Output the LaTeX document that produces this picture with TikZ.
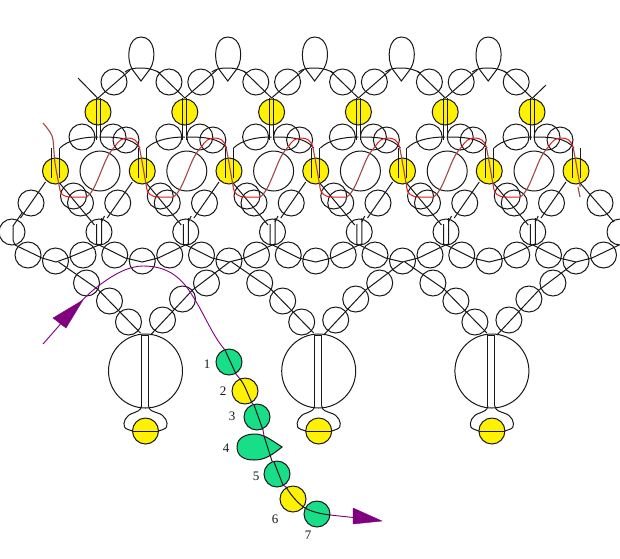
\documentclass[tikz,border=0pt]{standalone}
\usepackage{fontspec}
\setmainfont{Liberation Serif}
\definecolor{beadgreen}{HTML}{18DE88}
\definecolor{beadyellow}{HTML}{FFF200}
\definecolor{threadred}{HTML}{E81818}
\definecolor{threadbrown}{HTML}{A04848}
\definecolor{threadpurple}{HTML}{800080}
\definecolor{ink}{HTML}{181818}
\tikzset{
  bead/.style={circle,draw=ink,line width=1pt,inner sep=0pt,minimum size=26pt},
  big/.style={bead,minimum size=40pt},
  huge/.style={bead,minimum size=74pt},
  yel/.style={bead,fill=beadyellow},
  grn/.style={bead,fill=beadgreen},
  ln/.style={draw=ink,line width=1pt},
  redth/.style={draw=threadred,line width=1pt},
  brownth/.style={draw=threadbrown,line width=1.1pt},
  purp/.style={draw=threadpurple,line width=.9pt},
  tip/.style={fill=threadpurple,draw=threadpurple,line width=.4pt},
  num/.style={font=\fontsize{13}{13}\selectfont,text=ink,inner sep=0pt}
}
\begin{document}
\begin{tikzpicture}[x=1pt,y=-1pt]
\useasboundingbox (0,0) rectangle (620,558);
\clip (0,0) rectangle (620,558);
\fill[white] (0,0) rectangle (620,558);
% upper yellow row
\foreach \i [evaluate=\i as \x using 98+86.8*\i] in {0,...,5}{
  \node[yel] (ty\i) at (\x,112) {};
  \draw[ln] (\x-2,98) -- (\x-2,140) (\x+2,98) -- (\x+2,140);
  \node[bead] (sa\i) at (\x-16,137) {};
  \node[bead] (sb\i) at (\x+15,137) {};
  \node[bead] (sc\i) at (\x+28,140) {};
  \node[big] (bc\i) at (\x+2,171) {};
  \draw[ln] (\x-38,148) .. controls (\x-30,140) and (\x-15,137) .. (\x,137);
  \draw[ln] (\x+2,137) .. controls (\x+20,137) and (\x+34,138) .. (\x+42,148);
}
% top row circles and teardrops
\foreach \i [evaluate=\i as \x using 98+86.8*\i] in {0,...,4}{
  \node[bead] (tr\i) at (\x+16,82) {};
  \node[bead] (tl\i) at (\x+71,82) {};
  \draw[ln] (\x,98) -- (\x+32,70);
  \draw[ln] (\x+86.8,98) -- (\x+59,71);
  \draw[ln] (\x+27,72) .. controls (\x+31,69) and (\x+35,68) .. (\x+43,68) .. controls (\x+51,68) and (\x+57,70) .. (\x+62,73);
  \draw[ln] (\x+34,69) .. controls (\x+28,58) and (\x+30,37) .. (\x+43,37) .. controls (\x+57,37) and (\x+59,58) .. (\x+52,69) -- (\x+43,81) -- cycle;
}
\coordinate (tailL) at (78,78);
\coordinate (tailR) at (546,85);
\draw[ln] (ty0.north) -- (tailL);
\draw[ln] (ty5.north) -- (tailR);
% lower yellow row
\foreach \i [evaluate=\i as \x using 55.5+86.75*\i] in {0,...,6}{
  \node[yel] (my\i) at (\x,171) {};
  \draw[ln] (\x-4,148) -- (\x-4,178) (\x+4,148) -- (\x+4,178);
  \draw[ln] (\x-10,182) -- (\x-35,218);
  \node[bead] (la\i) at (\x-24.5,203) {};
}
\foreach \i [evaluate=\i as \x using 55.5+86.75*\i] in {0,...,5}{
  \node[bead] (lb\i) at (\x+18,196) {};
  \node[bead] (lc\i) at (\x+25,203) {};
  \draw[ln] (\x+4,183) -- (\x+39,225);
  \node[bead] (ru\i) at (\x+43.5,232) {};
  \draw[ln] (\x+41,224) -- (\x+41,244) -- (\x+43,245);
  \draw[ln] (\x+46,218) -- (\x+46,244) -- (\x+43,245);
  \draw[ln] (\x+49,216) -- (\x+46,222);
}
\node[bead] (rl0) at (12,232) {};
\node[bead] (rl1) at (620,232) {};
\node[bead] (la7) at (600,203) {};
\draw[ln] (580,183) -- (614,222);
\draw[ln] (22,213) -- (13,226) -- (13,240) -- (15,245);
% chain row
\draw[ln] (15,245) -- (42,258) -- (56,262) -- (70,257) -- (99,245);
\foreach \i [evaluate=\i as \x using 55.5+86.75*\i] in {0,...,6}{
  \node[bead] (ch\i) at (\x,261) {};
  \node[bead] (ca\i) at (\x-27.5,255) {};
  \node[bead] (cb\i) at (\x+27.5,255) {};
}
\foreach \i [evaluate=\i as \x using 142.25+86.75*\i] in {0,...,5}{
  \draw[ln] (\x-43,245) -- (\x-17,258) -- (\x,262) -- (\x+16,258) -- (\x+43,245);
}
% pendants
\foreach \i [evaluate=\i as \c using 145.5+173.2*\i] in {0,1,2}{
  \node[huge] (ph\i) at (\c,371) {};
  \node[yel] (py\i) at (\c,431) {};
  \node[bead] (p1\i) at (\c-59,283) {};
  \node[bead] (p2\i) at (\c-36,301) {};
  \node[bead] (p3\i) at (\c-17,322) {};
  \node[bead] (p4\i) at (\c+17,320) {};
  \node[bead] (p5\i) at (\c+37,299) {};
  \node[bead] (p6\i) at (\c+61,283) {};
  \draw[ln] (\c-4,335) -- (\c-4,406) (\c+3,335) -- (\c+3,406);
  \draw[ln] (\c-4,335) -- (\c+3,335);
  \draw[ln] (\c-5,333) -- (\c-48,289) -- (\c-87,262);
  \draw[ln] (\c+5,335) -- (\c+47,290) -- (\c+84,262);
  \draw[ln] (\c-13,431) -- (\c+13,431);
  \draw[ln] (\c-4,406) .. controls (\c-5,411) and (\c-8,411) .. (\c-12,413) .. controls (\c-20,415) and (\c-23,423) .. (\c-21,427) .. controls (\c-20,429) and (\c-16,430) .. (\c-13,431);
  \draw[ln] (\c+3,406) .. controls (\c+4,411) and (\c+7,411) .. (\c+12,413) .. controls (\c+20,415) and (\c+23,423) .. (\c+21,427) .. controls (\c+20,429) and (\c+16,430) .. (\c+13,431);
}
% red thread
\draw[threadbrown,line width=1.1pt] plot[smooth] coordinates {(43,123) (50,132) (53,140) (55,163) (60,190)};
\draw[redth] (60,190) .. controls (61,195) and (64,197) .. (72,197) -- (86,197);
\foreach \i [evaluate=\i as \x using 55.5+86.75*\i] in {0,...,5}{
  \draw[brownth] (\x+31,197) .. controls (\x+37,193) and (\x+41,183) .. (\x+47,168) .. controls (\x+51,158) and (\x+54,152) .. (\x+59,147);
  \draw[redth] (\x+59,147) .. controls (\x+63,141) and (\x+66,138) .. (\x+72,138) .. controls (\x+78,138) and (\x+82,140) .. (\x+84,148);
  \draw[brownth] (\x+84,148) .. controls (\x+86,158) and (\x+88,170) .. (\x+91,187);
}
\foreach \i [evaluate=\i as \x using 142.25+86.75*\i] in {0,...,4}{
  \draw[redth] (\x+4,187) .. controls (\x+5,194) and (\x+9,197) .. (\x+17,197) -- (\x+31,197);
}
\coordinate (redend) at (580,197);
\draw[brownth] (578,187) -- (redend);
% numbered beads
\node[grn] (b1) at (229,362) {};
\node[yel] (b2) at (245,391) {};
\node[grn] (b3) at (257,417) {};
\draw[ln,fill=beadgreen] (237,447) .. controls (237,437) and (247,434) .. (255,434) .. controls (263,434) and (270,439) .. (282,447) .. controls (272,455) and (265,460) .. (254,460) .. controls (244,460) and (237,456) .. (237,447) -- cycle;
\coordinate (b4) at (258,447);
\node[grn] (b5) at (277,474) {};
\node[yel] (b6) at (293,499) {};
\node[grn] (b7) at (317,514) {};
\node[num] (n1) at (207,364) {1};
\node[num] (n2) at (223,391) {2};
\node[num] (n3) at (232,416) {3};
\node[num] (n4) at (226,448) {4};
\node[num] (n5) at (256,476) {5};
\node[num] (n6) at (275,519) {6};
\node[num] (n7) at (308,535) {7};
% purple thread
\coordinate (pstart) at (43,344);
\coordinate (pend) at (358,518);
\draw[purp] (pstart) .. controls (60,325) and (80,300) .. (97,287) .. controls (115,273) and (130,266) .. (143,266) .. controls (165,266) and (180,275) .. (192,295) .. controls (205,315) and (212,335) .. (225,350);
\draw[ln] (225,350) -- (236,374);
\draw[purp] (236,374) -- (240,379);
\draw[ln] (240,379) .. controls (245,385) and (248,395) .. (252,403);
\draw[purp] (252,403) -- (254,405);
\draw[ln] (254,405) -- (263,430);
\draw[purp] (263,430) -- (264,436);
\draw[ln] (264,436) -- (272,461);
\draw[purp] (272,461) -- (274,462);
\draw[ln] (274,462) -- (283,485);
\draw[purp] (283,485) -- (286,487);
\draw[ln] (286,487) .. controls (292,497) and (300,505) .. (305,508) .. controls (312,512) and (322,514) .. (330,515);
\draw[purp] (330,515) -- (pend);
\draw[tip] (83,300) -- (53,318) -- (66,328) -- cycle;
\draw[tip] (382,521) -- (353,508) -- (353,524) -- cycle;
\end{tikzpicture}
\end{document}
